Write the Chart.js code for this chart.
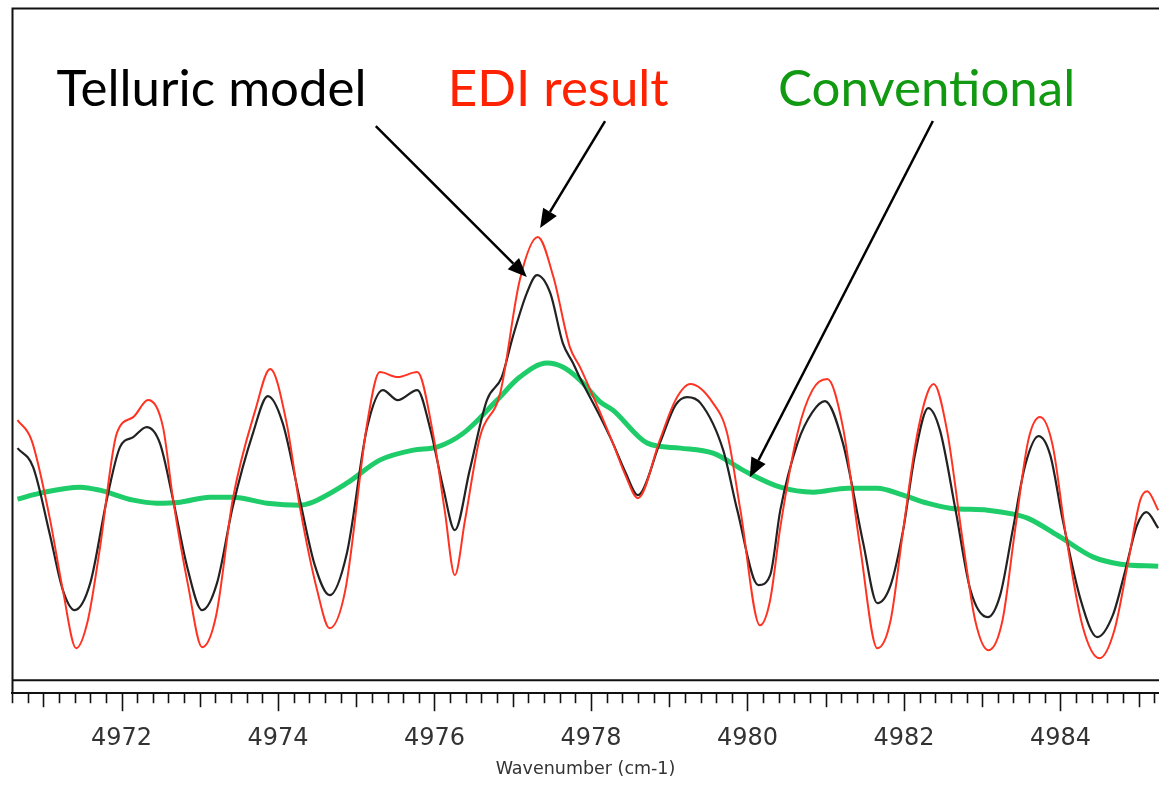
<!DOCTYPE html>
<html>
<head>
<meta charset="utf-8">
<title>Wavenumber spectrum</title>
<script src="https://cdn.jsdelivr.net/npm/chart.js@4"></script>
<style>
  html, body { margin: 0; padding: 0; background: #ffffff; }
  #wrap { width: 1159px; height: 787px; position: relative; }
</style>
</head>
<body>
<div id="wrap"><canvas id="spec" width="1159" height="787"></canvas></div>
<script>
// Telluric model (black)
const modelWave = [4970.67,4970.87,4971.08,4971.25,4971.40,4971.60,4971.81,4971.98,4972.15,4972.32,4972.49,4972.66,4972.84,4973.03,4973.22,4973.42,4973.68,4973.87,4974.06,4974.28,4974.47,4974.66,4974.88,4975.14,4975.34,4975.53,4975.78,4975.94,4976.11,4976.26,4976.45,4976.67,4976.86,4977.00,4977.18,4977.31,4977.48,4977.64,4977.77,4977.86,4978.12,4978.28,4978.44,4978.60,4978.88,4979.08,4979.23,4979.40,4979.69,4979.87,4980.14,4980.29,4980.42,4980.64,4980.83,4980.99,4981.22,4981.48,4981.66,4981.83,4981.99,4982.14,4982.31,4982.46,4982.66,4982.85,4983.07,4983.23,4983.39,4983.55,4983.72,4983.87,4984.03,4984.26,4984.47,4984.67,4984.83,4984.98,4985.10,4985.25];
const modelFlux = [2.32,2.13,1.47,0.90,0.70,0.97,1.80,2.33,2.43,2.53,2.37,1.80,1.13,0.70,0.97,1.73,2.47,2.84,2.57,1.80,1.15,0.85,1.27,2.53,2.90,2.80,2.90,2.53,1.93,1.50,2.10,2.80,3.03,3.43,3.87,4.05,3.87,3.37,3.17,3.02,2.63,2.37,2.08,1.85,2.37,2.75,2.83,2.77,2.30,1.70,0.95,1.05,1.70,2.37,2.68,2.79,2.37,1.37,0.77,0.95,1.50,2.25,2.72,2.50,1.70,0.90,0.63,0.85,1.50,2.15,2.44,2.25,1.60,0.80,0.43,0.65,1.10,1.55,1.68,1.52];

// EDI result (red)
const ediWave = [4970.67,4970.85,4971.08,4971.25,4971.42,4971.57,4971.72,4971.94,4972.15,4972.34,4972.53,4972.66,4972.85,4973.03,4973.21,4973.42,4973.71,4973.90,4974.11,4974.28,4974.50,4974.66,4974.86,4975.14,4975.30,4975.53,4975.78,4975.98,4976.13,4976.26,4976.39,4976.58,4976.84,4977.09,4977.32,4977.52,4977.73,4977.86,4978.12,4978.28,4978.44,4978.60,4978.88,4979.08,4979.27,4979.56,4979.74,4979.91,4980.16,4980.29,4980.42,4980.64,4980.83,4981.02,4981.22,4981.44,4981.66,4981.83,4981.99,4982.18,4982.38,4982.55,4982.75,4982.91,4983.08,4983.26,4983.42,4983.59,4983.74,4983.90,4984.06,4984.28,4984.50,4984.69,4984.87,4985.02,4985.11,4985.25];
const ediFlux = [2.60,2.40,1.63,0.90,0.32,0.60,1.30,2.47,2.63,2.80,2.53,1.80,0.95,0.33,0.65,1.80,2.70,3.11,2.57,1.73,0.90,0.52,0.90,2.57,3.08,3.03,3.08,2.47,1.70,1.05,1.60,2.43,2.87,4.00,4.43,4.03,3.33,3.13,2.67,2.37,2.05,1.82,2.40,2.80,2.96,2.77,2.47,1.70,0.55,0.80,1.53,2.47,2.90,3.01,2.53,1.33,0.32,0.60,1.50,2.50,2.96,2.50,1.40,0.60,0.30,0.60,1.50,2.40,2.63,2.35,1.50,0.55,0.22,0.50,1.20,1.80,1.89,1.70];

// Conventional (green)
const convWave = [4970.67,4970.96,4971.47,4971.72,4972.15,4972.45,4972.75,4973.13,4973.42,4973.86,4974.28,4974.41,4974.88,4975.30,4975.73,4976.03,4976.37,4976.80,4977.09,4977.44,4977.64,4977.86,4978.12,4978.28,4978.72,4979.14,4979.56,4979.99,4980.42,4980.84,4981.28,4981.66,4981.99,4982.30,4982.59,4983.07,4983.40,4983.58,4984.00,4984.42,4984.77,4985.25];
const convFlux = [1.81,1.87,1.93,1.90,1.80,1.77,1.78,1.83,1.83,1.77,1.75,1.77,1.97,2.20,2.30,2.33,2.47,2.80,3.03,3.17,3.13,3.00,2.78,2.70,2.37,2.32,2.27,2.08,1.93,1.88,1.92,1.92,1.85,1.77,1.72,1.70,1.66,1.62,1.43,1.23,1.16,1.14];

// Axis range and labelled ticks
const waveMin = 4970.6;
const waveMax = 4985.26;
const fluxMin = -0.13;
const fluxMax = 6.72;
const tickStep = 0.2;
const labelledTicks = [4972, 4974, 4976, 4978, 4980, 4982, 4984];
const axisTitle = 'Wavenumber (cm-1)';

// Callouts: text, colour, text anchor [wave, flux], arrow start, arrow tip
const calloutText = ['Telluric model', 'EDI result', 'Conventional'];
const calloutColor = ['#000000', '#ff2200', '#119911'];
const calloutAnchor = [[4971.17, 5.74], [4976.17, 5.74], [4980.39, 5.74]];
const arrowFrom = [[4975.25, 5.54], [4978.18, 5.59], [4982.37, 5.59]];
const arrowTo = [[4977.18, 4.03], [4977.35, 4.52], [4980.03, 2.03]];

const toPoints = (xs, ys) => xs.map((x, i) => ({ x: x, y: ys[i] }));

// Frame, zero line, axis tick marks and callouts
const decorations = {
  id: 'decorations',
  afterDatasetsDraw(chart) {
    const ctx = chart.ctx;
    const area = chart.chartArea;
    const xs = chart.scales.x;
    const ys = chart.scales.y;
    ctx.save();
    ctx.strokeStyle = '#111';
    ctx.lineWidth = 2;
    // left and top frame
    ctx.beginPath();
    ctx.moveTo(area.right + 2, area.top + 0.5);
    ctx.lineTo(area.left + 0.5, area.top + 0.5);
    ctx.lineTo(area.left + 0.5, area.bottom);
    ctx.stroke();
    // zero level
    const y0 = ys.getPixelForValue(0);
    ctx.beginPath();
    ctx.moveTo(area.left, y0);
    ctx.lineTo(area.right + 2, y0);
    ctx.stroke();
    // tick marks below the axis
    ctx.lineWidth = 1.6;
    const first = Math.ceil(waveMin / tickStep - 1e-6);
    const last = Math.floor(waveMax / tickStep + 1e-6);
    for (let k = first; k <= last; k++) {
      const v = k * tickStep;
      const r = Math.round(v);
      const isInt = Math.abs(v - r) < 1e-6;
      let len = 10;
      if (isInt) len = (r % 2 === 0) ? 18 : 14;
      const px = Math.round(xs.getPixelForValue(v)) + 0.5;
      ctx.beginPath();
      ctx.moveTo(px, area.bottom);
      ctx.lineTo(px, area.bottom + len);
      ctx.stroke();
    }
    // callout labels
    ctx.font = '51px Lato, "Open Sans", sans-serif';
    ctx.textBaseline = 'alphabetic';
    ctx.textAlign = 'left';
    for (let i = 0; i < calloutText.length; i++) {
      ctx.fillStyle = calloutColor[i];
      ctx.fillText(calloutText[i], xs.getPixelForValue(calloutAnchor[i][0]), ys.getPixelForValue(calloutAnchor[i][1]));
    }
    // callout arrows
    ctx.strokeStyle = '#000';
    ctx.fillStyle = '#000';
    ctx.lineWidth = 2.5;
    for (let i = 0; i < arrowFrom.length; i++) {
      const x1 = xs.getPixelForValue(arrowFrom[i][0]);
      const y1 = ys.getPixelForValue(arrowFrom[i][1]);
      const x2 = xs.getPixelForValue(arrowTo[i][0]);
      const y2 = ys.getPixelForValue(arrowTo[i][1]);
      const ang = Math.atan2(y2 - y1, x2 - x1);
      const headLen = 19, headHalf = 8;
      const bx = x2 - headLen * Math.cos(ang);
      const by = y2 - headLen * Math.sin(ang);
      ctx.beginPath();
      ctx.moveTo(x1, y1);
      ctx.lineTo(bx, by);
      ctx.stroke();
      ctx.beginPath();
      ctx.moveTo(x2, y2);
      ctx.lineTo(bx + headHalf * Math.sin(ang), by - headHalf * Math.cos(ang));
      ctx.lineTo(bx - headHalf * Math.sin(ang), by + headHalf * Math.cos(ang));
      ctx.closePath();
      ctx.fill();
    }
    ctx.restore();
  }
};

new Chart(document.getElementById('spec'), {
  type: 'line',
  data: {
    datasets: [
      {
        label: 'EDI result',
        data: toPoints(ediWave, ediFlux),
        borderColor: '#ff3322',
        borderWidth: 2,
        pointRadius: 0,
        cubicInterpolationMode: 'monotone'
      },
      {
        label: 'Telluric model',
        data: toPoints(modelWave, modelFlux),
        borderColor: '#222222',
        borderWidth: 2.2,
        pointRadius: 0,
        cubicInterpolationMode: 'monotone'
      },
      {
        label: 'Conventional',
        data: toPoints(convWave, convFlux),
        borderColor: '#1fcc6a',
        borderWidth: 5,
        pointRadius: 0,
        cubicInterpolationMode: 'monotone'
      }
    ]
  },
  options: {
    responsive: false,
    animation: false,
    devicePixelRatio: 1,
    layout: { padding: { left: 12, top: 8, right: 0, bottom: 7 } },
    plugins: {
      legend: { display: false },
      tooltip: { enabled: false }
    },
    scales: {
      x: {
        type: 'linear',
        min: waveMin,
        max: waveMax,
        afterFit: (scale) => {
          // the plot runs right up to the canvas edge
          scale.paddingLeft = 0;
          scale.paddingRight = 0;
        },
        grid: {
          drawOnChartArea: false,
          drawTicks: true,
          tickLength: 18,
          tickColor: 'rgba(0,0,0,0)'
        },
        border: { display: true, color: '#111', width: 2 },
        ticks: {
          stepSize: tickStep,
          autoSkip: false,
          maxRotation: 0,
          padding: 13,
          color: '#333',
          font: { family: '"DejaVu Sans", sans-serif', size: 24 },
          callback: (v) => {
            const r = Math.round(v);
            return (Math.abs(v - r) < 1e-6 && labelledTicks.includes(r)) ? String(r) : '';
          }
        },
        title: {
          display: true,
          text: axisTitle,
          color: '#333',
          font: { family: '"DejaVu Sans", sans-serif', size: 17.5 },
          padding: { top: -7, bottom: 0 }
        }
      },
      y: {
        display: false,
        min: fluxMin,
        max: fluxMax
      }
    }
  },
  plugins: [decorations]
});
</script>
</body>
</html>
